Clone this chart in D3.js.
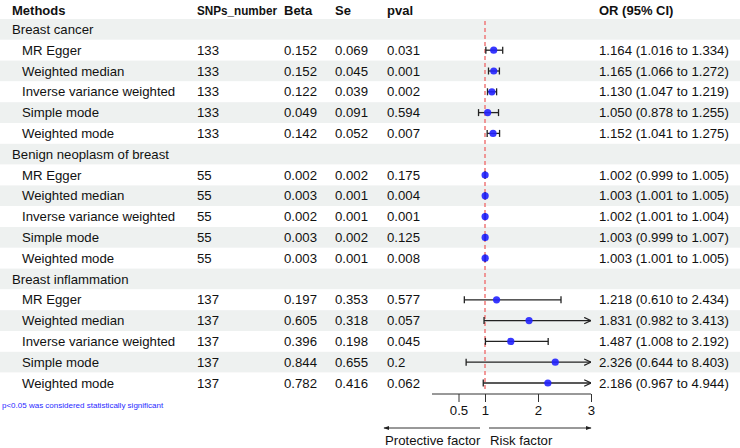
<!DOCTYPE html>
<html><head><meta charset="utf-8">
<script src="https://cdn.jsdelivr.net/npm/d3@7"></script>
<style>body{margin:0;background:#fff}svg{display:block}text{font-family:"Liberation Sans",Arial,sans-serif}</style>
</head><body>
<svg id="c" width="740" height="448"></svg>
<script>
const headers = ["Methods","SNPs_number","Beta","Se","pval","OR (95% CI)"];
const groups = ["Breast cancer","Benign neoplasm of breast","Breast inflammation"];
const methods = ["MR Egger","Weighted median","Inverse variance weighted","Simple mode","Weighted mode"];
const snps = [133,55,137];
const beta = [["0.152","0.152","0.122","0.049","0.142"],["0.002","0.003","0.002","0.003","0.003"],["0.197","0.605","0.396","0.844","0.782"]];
const se = [["0.069","0.045","0.039","0.091","0.052"],["0.002","0.001","0.001","0.002","0.001"],["0.353","0.318","0.198","0.655","0.416"]];
const pval = [["0.031","0.001","0.002","0.594","0.007"],["0.175","0.004","0.001","0.125","0.008"],["0.577","0.057","0.045","0.2","0.062"]];
const or = [[1.164,1.165,1.130,1.050,1.152],[1.002,1.003,1.002,1.003,1.003],[1.218,1.831,1.487,2.326,2.186]];
const lo = [[1.016,1.066,1.047,0.878,1.041],[0.999,1.001,1.001,0.999,1.001],[0.610,0.982,1.008,0.644,0.967]];
const hi = [[1.334,1.272,1.219,1.255,1.275],[1.005,1.005,1.004,1.007,1.005],[2.434,3.413,2.192,8.403,4.944]];
const ticks = [0.5,1,2,3];
const note = "p<0.05 was considered statistically significant";

const svg = d3.select("#c");
const W = 740, fs = 13.2;
const top0 = 19, rowH = 20.8;
const x = d3.scaleLinear().domain([0,3]).range([432,591]);
const colX = [12,197,284,335,387,599];

const rows = [];
groups.forEach((g,gi)=>{
  rows.push({type:"g",label:g});
  methods.forEach((m,mi)=>rows.push({type:"m",label:m,snp:snps[gi],beta:beta[gi][mi],se:se[gi][mi],p:pval[gi][mi],or:or[gi][mi],lo:lo[gi][mi],hi:hi[gi][mi]}));
});
const y = i => top0 + rowH*(i+0.5);

const defs = svg.append("defs");
defs.append("marker").attr("id","ah").attr("viewBox","0 0 10 10").attr("refX",9).attr("refY",5)
  .attr("markerWidth",6).attr("markerHeight",6).attr("markerUnits","userSpaceOnUse").attr("orient","auto")
  .append("path").attr("d","M0,1.5L10,5L0,8.5Z").attr("fill","#222");
defs.append("marker").attr("id","oh").attr("viewBox","0 0 10 10").attr("refX",9.5).attr("refY",5)
  .attr("markerWidth",8).attr("markerHeight",8).attr("markerUnits","userSpaceOnUse").attr("orient","auto")
  .append("path").attr("d","M1,1L9.5,5L1,9").attr("fill","none").attr("stroke","#222").attr("stroke-width",1.5);

svg.append("g").selectAll("rect").data(rows).join("rect")
  .attr("x",0).attr("width",W).attr("y",(d,i)=>top0+rowH*i).attr("height",rowH)
  .attr("fill",(d,i)=>i%2===0?"#eef1f0":"#ffffff");

svg.append("g").selectAll("text").data(headers).join("text")
  .attr("x",(d,i)=>colX[i]).attr("y",10).attr("dy","0.35em")
  .attr("font-size",13).attr("font-weight","bold").attr("fill","#111").text(d=>d)
  .each(function(d){ if(d==="SNPs_number") d3.select(this).attr("textLength",80).attr("lengthAdjust","spacingAndGlyphs"); });

const tg = svg.append("g").attr("font-size",fs).attr("fill","#111");
rows.forEach((r,i)=>{
  if(r.type==="g"){
    tg.append("text").attr("x",colX[0]).attr("y",y(i)).attr("dy","0.35em").text(r.label);
  } else {
    const vals=[r.label,r.snp,r.beta,r.se,r.p,`${r.or.toFixed(3)} (${r.lo.toFixed(3)} to ${r.hi.toFixed(3)})`];
    vals.forEach((v,k)=>tg.append("text").attr("x",k===0?22:colX[k]).attr("y",y(i)).attr("dy","0.35em").text(v));
  }
});

svg.append("line").attr("x1",x(1)).attr("x2",x(1)).attr("y1",top0+2).attr("y2",392)
  .attr("stroke","#f07878").attr("stroke-width",1.5).attr("stroke-dasharray","4,3");

const pg = svg.append("g");
rows.forEach((r,i)=>{
  if(r.type!=="m") return;
  const yy=y(i), x1=x(r.lo), clipped=r.hi>3, x2=x(Math.min(r.hi,3));
  const ln=pg.append("line").attr("x1",x1).attr("x2",x2).attr("y1",yy).attr("y2",yy).attr("stroke","#222").attr("stroke-width",1.3);
  if(clipped) ln.attr("marker-end","url(#oh)");
  const caps=clipped?[x1]:[x1,x2];
  caps.forEach(cx=>pg.append("line").attr("x1",cx).attr("x2",cx).attr("y1",yy-3.5).attr("y2",yy+3.5).attr("stroke","#222").attr("stroke-width",1.3));
  pg.append("circle").attr("cx",x(r.or)).attr("cy",yy).attr("r",3.6).attr("fill","#2222ff").attr("fill-opacity",0.9);
});

const ag = svg.append("g").attr("transform","translate(0,394)");
const axis = d3.axisBottom(x).tickValues(ticks).tickSize(8).tickPadding(4).tickFormat(d=>d===0.5?"0.5":d3.format("d")(d));
ag.call(axis);
ag.select(".domain").attr("stroke","#333").attr("d",`M${x(0)},0H${x(3)}`);
ag.selectAll(".tick line").attr("stroke","#333");
ag.selectAll(".tick text").attr("font-size",fs).attr("fill","#111").attr("font-family","Liberation Sans, Arial, sans-serif");

svg.append("line").attr("x1",480).attr("x2",384).attr("y1",428).attr("y2",428).attr("stroke","#333").attr("stroke-width",1).attr("marker-end","url(#ah)");
svg.append("line").attr("x1",489).attr("x2",591).attr("y1",428).attr("y2",428).attr("stroke","#333").attr("stroke-width",1).attr("marker-end","url(#ah)");
svg.append("text").attr("x",385).attr("y",440).attr("dy","0.35em").attr("font-size",fs).attr("fill","#111").text("Protective factor");
svg.append("text").attr("x",490).attr("y",440).attr("dy","0.35em").attr("font-size",fs).attr("fill","#111").text("Risk factor");

svg.append("text").attr("x",2).attr("y",405).attr("dy","0.35em").attr("font-size",8).attr("fill","#2a2aff").text(note);
</script>
</body></html>
